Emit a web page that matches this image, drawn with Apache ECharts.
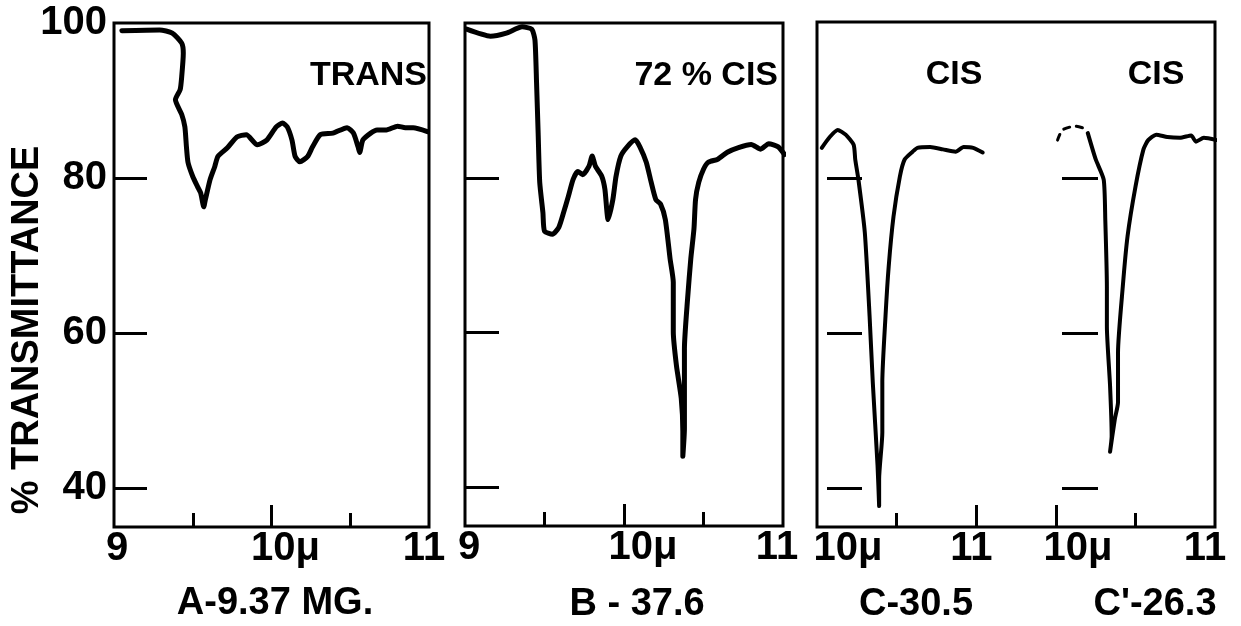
<!DOCTYPE html>
<html>
<head>
<meta charset="utf-8">
<script src="https://cdn.jsdelivr.net/npm/echarts@6/dist/echarts.min.js"></script>
<style>
  html, body { margin: 0; background: #fff; }
  #chart { width: 1241px; height: 626px; }
</style>
</head>
<body>
<div id="chart"></div>
<script>
// spectra: wavelength (micron) / % transmittance
var waveA = [9.05, 9.29, 9.37, 9.43, 9.44, 9.43, 9.42, 9.39, 9.43, 9.45, 9.46, 9.47, 9.50, 9.53, 9.55, 9.57, 9.58, 9.61, 9.64, 9.66, 9.72, 9.78, 9.84, 9.91, 9.97, 10.03, 10.07, 10.10, 10.13, 10.15, 10.18, 10.23, 10.26, 10.31, 10.39, 10.48, 10.52, 10.55, 10.56, 10.58, 10.63, 10.67, 10.73, 10.80, 10.85, 10.90, 10.99];
var transA = [99.0, 99.1, 98.7, 97.4, 96.1, 93.1, 91.4, 90.1, 88.2, 86.6, 84.0, 82.0, 80.2, 78.9, 78.1, 76.3, 77.2, 79.8, 81.5, 82.8, 83.9, 85.3, 85.6, 84.3, 84.9, 86.6, 87.1, 86.6, 84.9, 82.8, 82.1, 82.8, 84.0, 85.6, 85.8, 86.5, 85.8, 84.0, 83.3, 84.9, 85.8, 86.2, 86.2, 86.7, 86.5, 86.5, 86.0];

var waveB = [9.01, 9.16, 9.26, 9.36, 9.42, 9.44, 9.45, 9.46, 9.47, 9.49, 9.50, 9.55, 9.59, 9.62, 9.65, 9.68, 9.71, 9.74, 9.78, 9.80, 9.82, 9.86, 9.88, 9.90, 9.93, 9.95, 9.98, 10.02, 10.07, 10.10, 10.14, 10.17, 10.20, 10.23, 10.26, 10.29, 10.31, 10.31, 10.33, 10.36, 10.37, 10.37, 10.38, 10.38, 10.38, 10.40, 10.42, 10.44, 10.45, 10.47, 10.50, 10.53, 10.59, 10.65, 10.72, 10.80, 10.86, 10.91, 10.97, 11.01];
var transB = [99.2, 98.3, 98.7, 99.5, 99.2, 97.8, 92.3, 85.8, 79.4, 75.5, 73.1, 72.7, 73.6, 75.5, 77.6, 79.8, 80.8, 80.4, 81.5, 82.8, 81.5, 80.2, 78.5, 74.6, 77.2, 80.2, 82.8, 84.0, 84.9, 84.0, 82.0, 79.5, 77.2, 76.6, 74.6, 69.5, 66.5, 60.1, 55.7, 51.5, 47.2, 44.0, 47.6, 51.5, 57.9, 64.4, 69.5, 73.4, 77.2, 79.4, 81.1, 82.0, 82.4, 83.3, 83.9, 84.3, 83.7, 84.4, 84.0, 83.0];

var waveC = [10.03, 10.08, 10.13, 10.18, 10.23, 10.24, 10.26, 10.30, 10.33, 10.35, 10.38, 10.39, 10.39, 10.41, 10.41, 10.43, 10.45, 10.48, 10.52, 10.55, 10.60, 10.63, 10.71, 10.79, 10.87, 10.92, 10.98, 11.04];
var transC = [83.9, 85.3, 86.2, 85.6, 84.3, 82.4, 79.8, 73.0, 62.2, 53.7, 42.9, 37.7, 41.2, 47.2, 53.7, 62.2, 68.6, 75.0, 80.2, 82.4, 83.4, 83.9, 84.0, 83.7, 83.4, 84.0, 83.9, 83.3];

// faint start of the C' trace (drawn broken on the plate)
var waveC2start = [10.01, 10.04, 10.12, 10.18];
var transC2start = [84.9, 86.2, 86.7, 86.4];
var waveC2 = [10.20, 10.25, 10.30, 10.31, 10.32, 10.32, 10.34, 10.35, 10.34, 10.37, 10.39, 10.39, 10.42, 10.45, 10.50, 10.55, 10.58, 10.63, 10.70, 10.78, 10.85, 10.88, 10.93, 11.01];
var transC2 = [85.8, 82.4, 79.8, 74.6, 66.0, 60.9, 53.2, 46.7, 44.7, 48.9, 51.1, 57.5, 66.0, 72.5, 78.9, 83.7, 84.9, 85.6, 85.3, 85.2, 85.5, 84.7, 85.2, 84.9];

var yTickValues = [40, 60, 80];
var yLabelValues = [40, 60, 80, 100];
var isomerLabels = ['TRANS', '72 % CIS', 'CIS', 'CIS'];
var sampleLabels = ['A-9.37 MG.', 'B - 37.6', 'C-30.5', "C'-26.3"];
var yName = '% TRANSMITTANCE';

var FONT = '"Liberation Sans", Arial, sans-serif';
var INK = '#000';

function zip(xs, ys) {
  return xs.map(function (x, i) { return [x, ys[i]]; });
}

// items: [value, text, horizontal shift of the text]
function xLabel(items) {
  var rich = {};
  items.forEach(function (it, i) {
    var s = it[2];
    rich['t' + i] = {
      fontSize: 40, fontFamily: FONT, fontWeight: 'bold', color: INK,
      padding: s > 0 ? [0, 0, 0, 2 * s] : [0, -2 * s, 0, 0]
    };
  });
  return {
    show: true, margin: 2, rich: rich,
    customValues: items.map(function (it) { return it[0]; }),
    formatter: function (v) {
      for (var i = 0; i < items.length; i++) {
        if (Math.abs(items[i][0] - v) < 1e-9) return '{t' + i + '|' + items[i][1] + '}';
      }
      return '';
    }
  };
}

function xPair(grid, min, max, shortTicks, longTicks, labels) {
  var base = {
    gridIndex: grid, type: 'value', min: min, max: max, position: 'bottom',
    axisLine: { show: false }, splitLine: { show: false }
  };
  var main = Object.assign({}, base, {
    axisTick: { show: true, inside: true, length: 14, customValues: shortTicks, lineStyle: { color: INK, width: 3 } },
    axisLabel: xLabel(labels)
  });
  var long = Object.assign({}, base, {
    axisTick: { show: true, inside: true, length: 22, customValues: longTicks, lineStyle: { color: INK, width: 3 } },
    axisLabel: { show: false }
  });
  return [main, long];
}

function yAxisFor(grid, offset, tickLen, withLabels) {
  return {
    gridIndex: grid, type: 'value', min: 35, max: 100, offset: offset,
    axisLine: { show: false }, splitLine: { show: false },
    axisTick: { show: true, inside: true, length: tickLen, customValues: yTickValues, lineStyle: { color: INK, width: 3 } },
    axisLabel: withLabels ? {
      show: true, customValues: yLabelValues, margin: 7,
      fontSize: 40, fontWeight: 'bold', fontFamily: FONT, color: INK
    } : { show: false }
  };
}

function trace(data, xi, yi, width, dashed) {
  return {
    type: 'line', data: data, xAxisIndex: xi, yAxisIndex: yi,
    showSymbol: false, clip: false, silent: true, animation: false, smooth: 0.2,
    lineStyle: { color: INK, width: width, type: dashed ? [6, 7] : 'solid', join: 'round', cap: 'round' }
  };
}

var frame = { show: true, borderColor: INK, borderWidth: 3, backgroundColor: 'transparent' };

var xAxes = []
  .concat(xPair(0, 9, 11, [9.5, 10.5], [10], [[9, '9', 3], [10, '10μ', 14], [11, '11', -5]]))
  .concat(xPair(1, 9, 11, [9.5, 10.5], [10], [[9, '9', 4], [10, '10μ', 19], [11, '11', -6]]))
  .concat(xPair(3, 10, 11.5, [10.5], [11], [[10, '10μ', 31], [11, '11', -5]]))
  .concat(xPair(4, 10, 11, [10.5], [10], [[10, '10μ', 22], [11, '11', -10]]))
  .concat([{ gridIndex: 2, type: 'value', min: 0, max: 1, show: false }]);

function label(text, x, y, size, align) {
  return {
    type: 'text', x: x, y: y, silent: true,
    style: { text: text, fontSize: size, fontWeight: 'bold', fontFamily: FONT, fill: INK, align: align || 'center', verticalAlign: 'middle' }
  };
}

var option = {
  backgroundColor: '#fff',
  animation: false,
  grid: [
    Object.assign({ left: 114, top: 23, width: 315, height: 504 }, frame),
    Object.assign({ left: 465, top: 23, width: 318, height: 503 }, frame),
    Object.assign({ left: 817, top: 22, width: 398, height: 505 }, frame),
    { left: 817, top: 23, width: 239, height: 504, show: false },
    { left: 1056, top: 23, width: 159, height: 504, show: false }
  ],
  xAxis: xAxes,
  yAxis: [
    yAxisFor(0, 0, 33, true),
    yAxisFor(1, 0, 34, false),
    yAxisFor(3, -10, 35, false),
    yAxisFor(4, -6, 36, false),
    { gridIndex: 2, type: 'value', min: 0, max: 1, show: false }
  ],
  series: [
    trace(zip(waveA, transA), 0, 0, 5),
    trace(zip(waveB, transB), 2, 1, 5),
    trace(zip(waveC, transC), 4, 2, 4),
    trace(zip(waveC2start, transC2start), 6, 3, 3, true),
    trace(zip(waveC2, transC2), 6, 3, 4)
  ],
  graphic: [
    label(isomerLabels[0], 427, 76, 34, 'right'),
    label(isomerLabels[1], 778, 76, 34, 'right'),
    label(isomerLabels[2], 954, 75, 34),
    label(isomerLabels[3], 1156, 75, 34),
    label(sampleLabels[0], 275, 604, 38),
    label(sampleLabels[1], 637, 605, 38),
    label(sampleLabels[2], 916, 605, 38),
    label(sampleLabels[3], 1155, 605, 38),
    {
      type: 'text', x: 28, y: 330, rotation: Math.PI / 2, silent: true,
      style: { text: yName, fontSize: 38, fontWeight: 'bold', fontFamily: FONT, fill: INK, align: 'center', verticalAlign: 'middle' }
    }
  ]
};

var chart = echarts.init(document.getElementById('chart'), null, { renderer: 'canvas' });
chart.setOption(option);
</script>
</body>
</html>
